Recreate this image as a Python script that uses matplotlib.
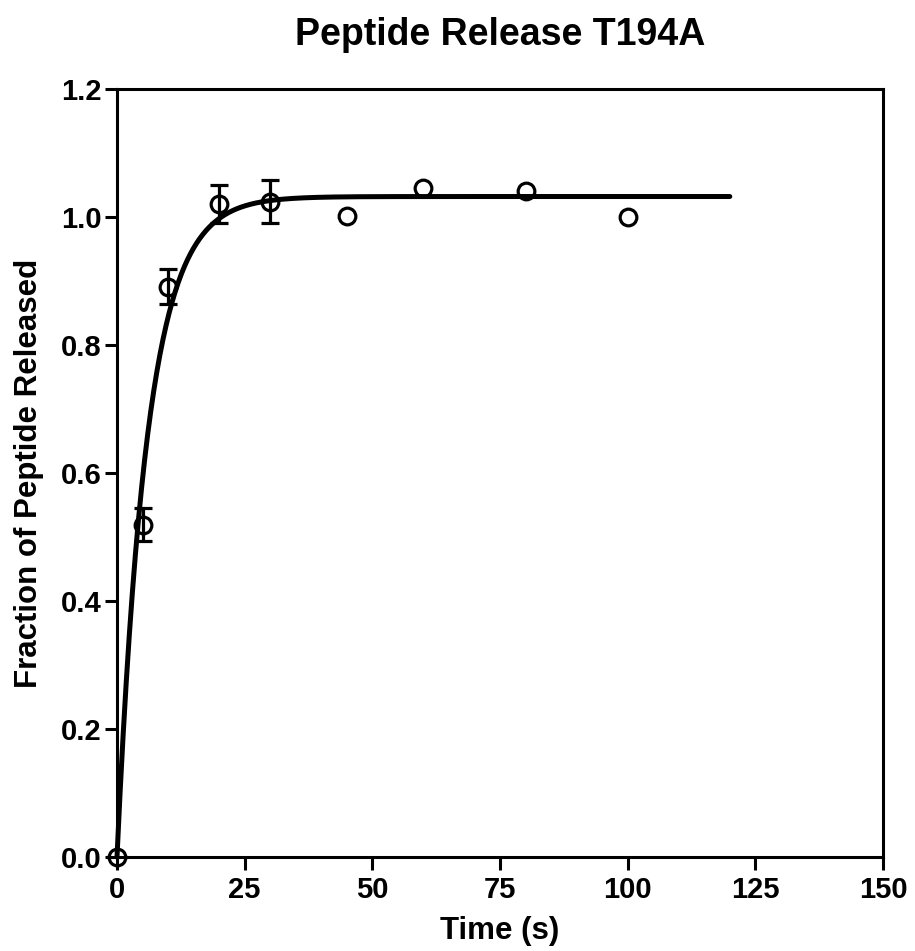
import numpy as np
import matplotlib
matplotlib.use("Agg")
import matplotlib.pyplot as plt

plt.rcParams['font.family'] = ['Liberation Sans', 'DejaVu Sans']
plt.rcParams['font.weight'] = 'bold'

time_s = [0, 5, 10, 20, 30, 45, 60, 80, 100]
fraction = [0.0, 0.519, 0.891, 1.020, 1.024, 1.002, 1.045, 1.040, 1.000]
err = [0.0, 0.026, 0.027, 0.030, 0.034, 0.0, 0.0, 0.0, 0.0]

fit_amp = 1.032
fit_k = 0.17
fit_tmax = 120

xticks = [0, 25, 50, 75, 100, 125, 150]
yticks = [0.0, 0.2, 0.4, 0.6, 0.8, 1.0, 1.2]

fig = plt.figure(figsize=(9.15, 9.51), dpi=100)
ax = fig.add_axes([117/915, 1-857/951, (883-117)/915, (857-89)/951])

tt = np.linspace(0, fit_tmax, 600)
ax.plot(tt, fit_amp*(1-np.exp(-fit_k*tt)), color='black', lw=3.6, zorder=2,
        solid_capstyle='round')

t_arr = np.array(time_s)
f_arr = np.array(fraction)
e_arr = np.array(err)
has_err = e_arr > 0
ax.errorbar(t_arr[has_err], f_arr[has_err], yerr=e_arr[has_err], fmt='none',
            ecolor='black', elinewidth=2.3, capsize=6.5, capthick=2.3, zorder=3)
ax.plot(t_arr, f_arr, 'o', ms=12, mfc='none', mec='black', mew=2.3, zorder=4)

ax.set_xlim(0, 150)
ax.set_ylim(0, 1.2)
ax.set_xticks(xticks)
ax.set_yticks(yticks)
ax.set_xticklabels([str(x) for x in xticks])
ax.set_yticklabels([f"{y:.1f}" for y in yticks])
for s in ['left', 'bottom', 'top', 'right']:
    ax.spines[s].set_linewidth(2.2)
ax.tick_params(direction='out', length=9, width=2.2, labelsize=21)
ax.tick_params(axis='x', pad=5)
ax.tick_params(axis='y', pad=2)
for lab in ax.get_xticklabels() + ax.get_yticklabels():
    lab.set_fontweight('bold')
ax.set_xlabel('Time (s)', fontsize=22.5, fontweight='bold', labelpad=8)
ax.set_ylabel('Fraction of Peptide Released', fontsize=22.5, fontweight='bold', labelpad=12)
ax.set_title('Peptide Release T194A', fontsize=27, fontweight='bold', pad=32)
for c in ax.get_children():
    try:
        c.set_clip_on(False)
    except Exception:
        pass

fig.savefig('out.png', dpi=100)
